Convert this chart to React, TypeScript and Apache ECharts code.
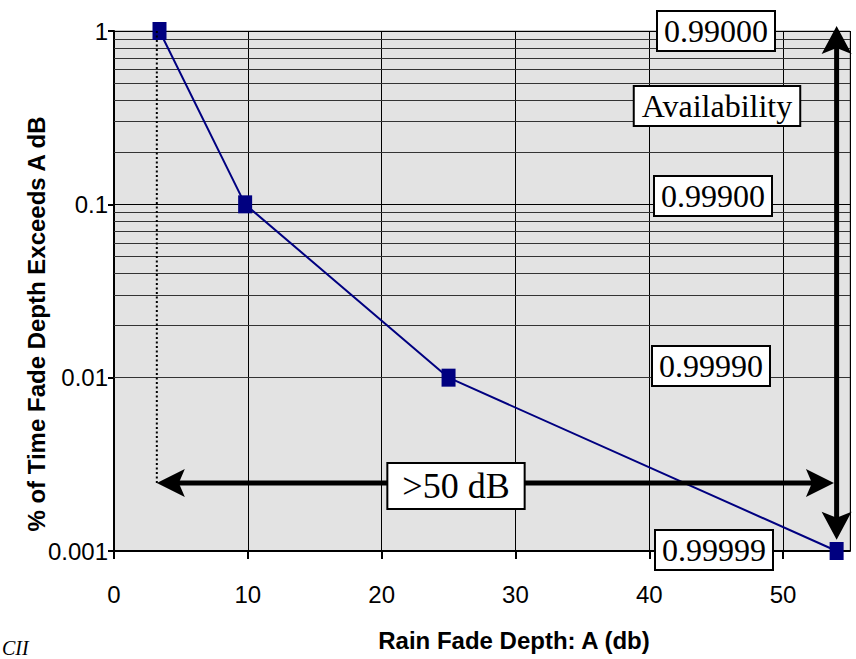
import React, { useEffect, useRef } from 'react';
import * as echarts from 'echarts';

// Data
const fadeDepthDb = [3.4, 9.8, 25, 54];
const percentTimeExceeded = [1, 0.1, 0.01, 0.001];
const availabilityLabels = ['0.99000', '0.99900', '0.99990', '0.99999'];
const xTickValues = [0, 10, 20, 30, 40, 50];
const yTickLabels = ['1', '0.1', '0.01', '0.001'];
const minorMultipliers = [2, 3, 4, 5, 6, 7, 8, 9];
const minorDecades = [0.001, 0.01, 0.1];

// Annotation anchor values (data units)
const spanStartDb = 3.2;
const spanEndDb = 53.8;
const spanLevel = 0.00247;
const availArrowDb = 54;
const availArrowTop = 1.07;
const availArrowBottom = 0.00116;

export default function App() {
  const ref = useRef<HTMLDivElement>(null);

  useEffect(() => {
    document.body.style.margin = '0';
    document.body.style.overflow = 'hidden';
    const chart = echarts.init(ref.current!, null, { renderer: 'svg' });
    const sans = "'Liberation Sans', Arial, sans-serif";
    const serif = "'Liberation Serif', 'Times New Roman', serif";

    const minorLines: any[] = [];
    minorDecades.forEach((d) =>
      minorMultipliers.forEach((m) => minorLines.push({ yAxis: Number((m * d).toPrecision(3)) }))
    );

    chart.setOption({
      animation: false,
      backgroundColor: '#ffffff',
      grid: {
        left: 114,
        right: 6,
        top: 31,
        bottom: 108,
        show: true,
        backgroundColor: '#e3e3e3',
        borderColor: '#8a8a8a',
        borderWidth: 1,
      },
      xAxis: {
        type: 'value',
        min: xTickValues[0],
        max: 55,
        interval: 10,
        axisLine: { lineStyle: { color: '#000', width: 2 } },
        axisTick: { length: 8, lineStyle: { color: '#000', width: 2 } },
        axisLabel: {
          margin: 31,
          fontSize: 24,
          fontFamily: sans,
          color: '#000',
          showMaxLabel: false,
        },
        splitLine: { show: true, lineStyle: { color: '#000', width: 1 } },
      },
      yAxis: {
        type: 'log',
        logBase: 10,
        min: 0.001,
        max: 1,
        axisLine: { show: true, onZero: false, lineStyle: { color: '#000', width: 2 } },
        axisTick: { show: true, length: 6, lineStyle: { color: '#000', width: 2 } },
        axisLabel: {
          margin: 6,
          fontSize: 24,
          fontFamily: sans,
          color: '#000',
          formatter: (v: number) => {
            const i = percentTimeExceeded.findIndex((p) => Math.abs(Math.log10(p) - Math.log10(v)) < 1e-6);
            return i >= 0 ? yTickLabels[i] : '';
          },
        },
        splitLine: { show: true, lineStyle: { color: '#000', width: 1 } },
      },
      series: [
        {
          type: 'line',
          data: [],
          silent: true,
          z: 1,
          markLine: {
            silent: true,
            animation: false,
            symbol: ['none', 'none'],
            label: { show: false },
            lineStyle: { color: '#333333', width: 1, type: 'solid' },
            data: minorLines,
          },
        },
        {
          type: 'line',
          data: fadeDepthDb.map((x, i) => [x, percentTimeExceeded[i]]),
          clip: false,
          z: 5,
          symbol: 'rect',
          symbolSize: [14, 18],
          lineStyle: { color: '#000080', width: 2 },
          itemStyle: { color: '#000080' },
        },
      ],
    });

    const px = (x: number, y: number) => chart.convertToPixel({ gridIndex: 0 } as any, [x, y]) as number[];

    const arrowParts = (a: number[], b: number[], len: number, halfW: number, notch: number, width: number) => {
      const dx = b[0] - a[0];
      const dy = b[1] - a[1];
      const L = Math.hypot(dx, dy);
      const ux = dx / L;
      const uy = dy / L;
      const nx = -uy;
      const ny = ux;
      const head = (tip: number[], dirx: number, diry: number) => {
        const bx = tip[0] - dirx * len;
        const by = tip[1] - diry * len;
        return {
          poly: [
            [tip[0], tip[1]],
            [bx + nx * halfW, by + ny * halfW],
            [tip[0] - dirx * (len - notch), tip[1] - diry * (len - notch)],
            [bx - nx * halfW, by - ny * halfW],
          ],
          back: [tip[0] - dirx * (len - notch - 1), tip[1] - diry * (len - notch - 1)],
        };
      };
      const hb = head(b, ux, uy);
      const ha = head(a, -ux, -uy);
      return [
        {
          type: 'line',
          z: 100,
          silent: true,
          shape: { x1: ha.back[0], y1: ha.back[1], x2: hb.back[0], y2: hb.back[1] },
          style: { stroke: '#000', lineWidth: width },
        },
        { type: 'polygon', z: 101, silent: true, shape: { points: ha.poly }, style: { fill: '#000' } },
        { type: 'polygon', z: 101, silent: true, shape: { points: hb.poly }, style: { fill: '#000' } },
      ];
    };

    const dotTop = px(spanStartDb, percentTimeExceeded[0]);
    const spanL = px(spanStartDb, spanLevel);
    const spanR = px(spanEndDb, spanLevel);
    const vTop = px(availArrowDb, availArrowTop);
    const vBot = px(availArrowDb, availArrowBottom);

    const box = (text: string, x: number, y: number, size: number, pad: number[]) => ({
      type: 'text',
      z: 120,
      silent: true,
      x,
      y,
      style: {
        text,
        font: `${size}px ${serif}`,
        fill: '#000',
        align: 'center',
        verticalAlign: 'middle',
        backgroundColor: '#ffffff',
        borderColor: '#000',
        borderWidth: 2,
        padding: pad,
      },
    });

    chart.setOption({
      graphic: [
        {
          type: 'line',
          z: 90,
          silent: true,
          shape: { x1: dotTop[0], y1: dotTop[1], x2: spanL[0], y2: spanL[1] },
          style: { stroke: '#000', lineWidth: 2, lineDash: [2, 2.5] },
        },
        ...arrowParts(spanL, spanR, 28, 14, 6, 5),
        ...arrowParts(vTop, vBot, 28, 15, 6, 5),
        box(availabilityLabels[0], 716, 31, 32, [3, 6]),
        box('Availability', 717, 106, 32, [3, 7]),
        box(availabilityLabels[1], 713, 196, 32, [3, 6]),
        box(availabilityLabels[2], 711, 366, 32, [3, 6]),
        box(availabilityLabels[3], 714, 550, 32, [3, 6]),
        box('>50 dB', 456, 486, 36, [4, 14]),
        {
          type: 'text',
          z: 120,
          silent: true,
          x: 514,
          y: 640,
          style: {
            text: 'Rain Fade Depth: A (db)',
            font: `bold 24px ${sans}`,
            fill: '#000',
            align: 'center',
            verticalAlign: 'middle',
          },
        },
        {
          type: 'text',
          z: 120,
          silent: true,
          x: 36,
          y: 324,
          rotation: Math.PI / 2,
          style: {
            text: '% of Time Fade Depth Exceeds A dB',
            font: `bold 24px ${sans}`,
            fill: '#000',
            align: 'center',
            verticalAlign: 'middle',
          },
        },
        {
          type: 'text',
          z: 120,
          silent: true,
          x: 2,
          y: 638,
          style: {
            text: 'CII',
            font: `italic 20px ${serif}`,
            fill: '#000',
            align: 'left',
            verticalAlign: 'top',
          },
        },
      ],
    });

    return () => chart.dispose();
  }, []);

  return <div ref={ref} style={{ width: 856, height: 659 }} />;
}
